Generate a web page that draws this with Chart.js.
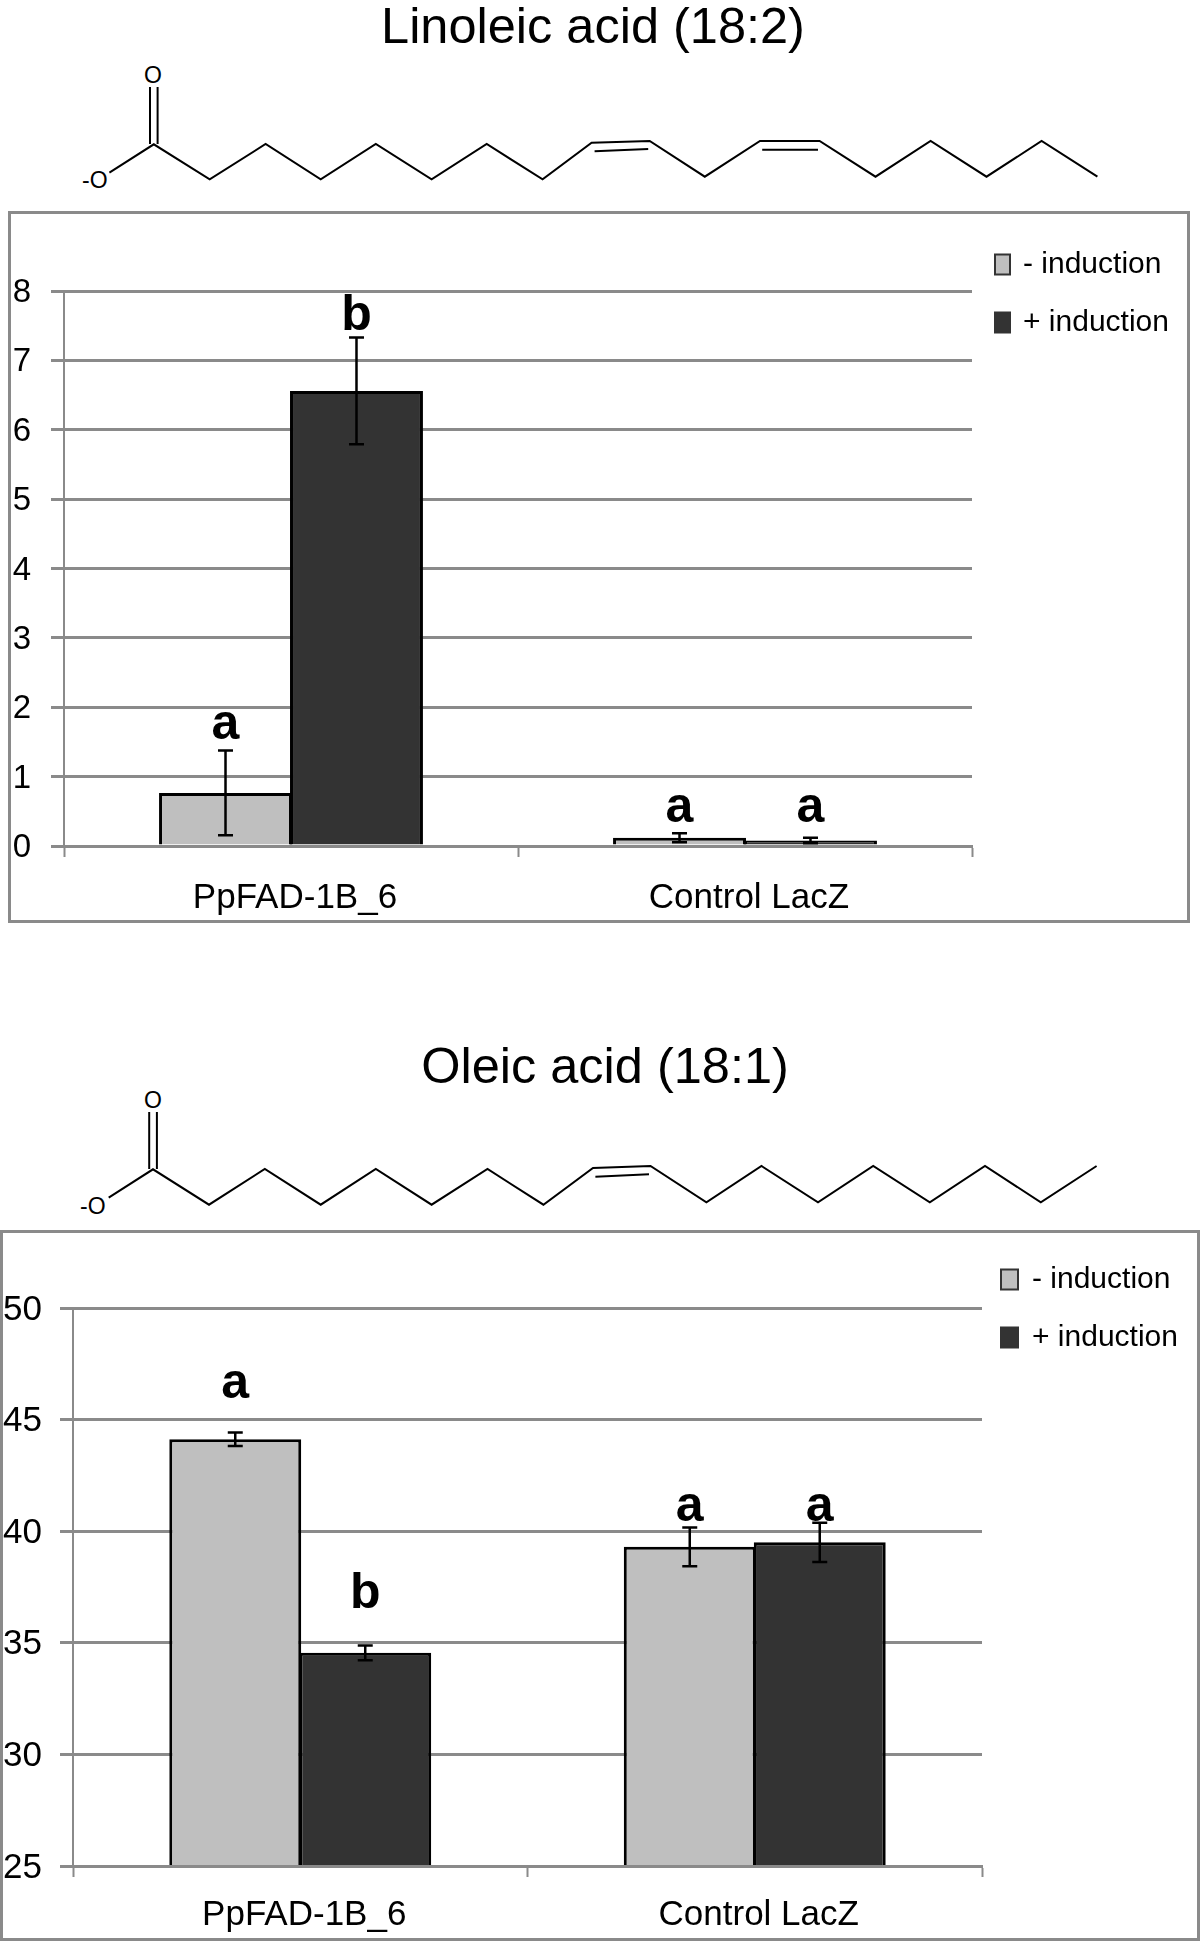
<!DOCTYPE html>
<html>
<head>
<meta charset="utf-8">
<title>Linoleic and oleic acid</title>
<script src="https://cdn.jsdelivr.net/npm/chart.js@4"></script>
<style>
  html, body { margin: 0; background: #fff; }
  body { position: relative; width: 1200px; height: 1941px; overflow: hidden; font-family: "Liberation Sans", Arial, sans-serif; }
  .title { position: absolute; font-size: 50.5px; line-height: 56px; color: #000; white-space: nowrap; transform: translateX(-50%); }
  .frame { position: absolute; box-sizing: border-box; border: 3px solid #8a8a8a; background: #fff; }
  .frame canvas { display: block; }
  svg.mol { position: absolute; left: 0; top: 0; }
  svg.mol polyline, svg.mol line { fill: none; stroke: #000; stroke-width: 2; }
  svg.mol text { font-family: "Liberation Sans", Arial, sans-serif; font-size: 23px; fill: #000; }
</style>
</head>
<body>
<div class="title" style="left:593px;top:-2px">Linoleic acid (18:2)</div>
<div class="title" style="left:605px;top:1038px">Oleic acid (18:1)</div>

<svg class="mol" width="1200" height="1941">
  <!-- 18:2 -->
  <text x="153" y="83" text-anchor="middle">O</text>
  <text x="82" y="188">-O</text>
  <line x1="150" y1="87" x2="150" y2="144"/>
  <line x1="157.6" y1="87" x2="157.6" y2="144"/>
  <polyline points="109.4,172.7 153.8,144.3 209.7,179.3 265.6,144 320.7,179.3 375.8,144 431.6,179.3 486.7,144 542.6,179.3 591.6,142.7 649.7,141 704.8,176.7 760,141 819.6,141 875.5,176.7 930.6,141 986.5,176.7 1041.6,141 1097.4,176.7"/>
  <line x1="594.6" y1="151.3" x2="648.2" y2="149"/>
  <line x1="762.2" y1="149.7" x2="818" y2="149.7"/>
  <!-- 18:1 -->
  <text x="153" y="1108" text-anchor="middle">O</text>
  <text x="80" y="1214">-O</text>
  <line x1="149.2" y1="1112" x2="149.2" y2="1169"/>
  <line x1="156.9" y1="1112" x2="156.9" y2="1169"/>
  <polyline points="108.7,1197.7 153,1169.3 209,1204.7 264.8,1169 320.7,1204.7 375.8,1169 431.6,1204.7 487.5,1169 543.4,1204.7 593,1168 650.5,1166 706.4,1202.3 761.5,1166 818,1202.3 873.2,1166 929.8,1202.3 985,1166 1040.8,1202.3 1096.6,1166"/>
  <line x1="595.4" y1="1176.7" x2="649" y2="1174.3"/>
</svg>

<div class="frame" style="left:8px;top:211px;width:1182px;height:712px"><canvas id="chartLinoleic" width="1176" height="706"></canvas></div>
<div class="frame" style="left:0;top:1230px;width:1200px;height:711px"><canvas id="chartOleic" width="1194" height="705"></canvas></div>

<script>
// --- Data ---
const categories = ['PpFAD-1B_6', 'Control LacZ'];
const seriesLabels = ['- induction', '+ induction'];

const linoleicTicks = [0, 8, 1];
const linoleicMinus = [0.765, 0.12];
const linoleicPlus = [6.56, 0.08];
const linoleicMinusErr = [0.61, 0.065];
const linoleicPlusErr = [0.77, 0.04];
const linoleicMinusLetters = ['a', 'a'];
const linoleicPlusLetters = ['b', 'a'];
const linoleicMinusLetterAt = [1.75, 0.55];
const linoleicPlusLetterAt = [7.64, 0.55];

const oleicTicks = [25, 50, 5];
const oleicMinus = [44.12, 39.3];
const oleicPlus = [34.55, 39.5];
const oleicMinusErr = [0.3, 0.87];
const oleicPlusErr = [0.33, 0.88];
const oleicMinusLetters = ['a', 'a'];
const oleicPlusLetters = ['b', 'a'];
const oleicMinusLetterAt = [46.6, 41.1];
const oleicPlusLetterAt = [37.2, 41.1];

const FONT = '"Liberation Sans", Arial, sans-serif';
const AXIS_GREY = '#8a8a8a';
const LIGHT = '#bfbfbf';
const DARK = '#333333';

// error bars and the a/b letters, placed from the chart's own scales
const markupPlugin = {
    id: 'markup',
    afterDatasetsDraw(chart) {
        const ctx = chart.ctx, y = chart.scales.y;
        ctx.save();
        chart.data.datasets.forEach((ds, i) => {
            chart.getDatasetMeta(i).data.forEach((bar, j) => {
                const top = y.getPixelForValue(ds.data[j] + ds.errors[j]);
                const low = y.getPixelForValue(ds.data[j] - ds.errors[j]);
                ctx.strokeStyle = '#000';
                ctx.lineWidth = 2.5;
                ctx.beginPath();
                ctx.moveTo(bar.x, top); ctx.lineTo(bar.x, low);
                ctx.moveTo(bar.x - 7.5, top); ctx.lineTo(bar.x + 7.5, top);
                ctx.moveTo(bar.x - 7.5, low); ctx.lineTo(bar.x + 7.5, low);
                ctx.stroke();

                ctx.fillStyle = '#000';
                ctx.font = 'bold 50px ' + FONT;
                ctx.textAlign = 'center';
                ctx.textBaseline = 'alphabetic';
                ctx.fillText(ds.letters[j], bar.x, y.getPixelForValue(ds.letterAt[j]) + 14);
            });
        });
        ctx.restore();
    }
};

// legend sits at a fixed spot in the frame, so it is drawn by hand
const sideLegendPlugin = {
    id: 'sideLegend',
    afterDraw(chart, args, opts) {
        const ctx = chart.ctx;
        ctx.save();
        chart.data.datasets.forEach((ds, i) => {
            const top = opts.top + i * opts.step;
            ctx.fillStyle = ds.backgroundColor;
            ctx.strokeStyle = '#333';
            ctx.lineWidth = 2;
            ctx.fillRect(opts.box, top - 1.5, opts.boxW, 20);
            ctx.strokeRect(opts.box, top - 1.5, opts.boxW, 20);
            ctx.fillStyle = '#000';
            ctx.font = '30px ' + FONT;
            ctx.textAlign = 'left';
            ctx.textBaseline = 'middle';
            ctx.fillText(ds.label, opts.text, top + 9);
        });
        ctx.restore();
    }
};

function makeChart(id, minus, plus, minusErr, plusErr, minusLetters, plusLetters, minusAt, plusAt, ticks, box) {
    return new Chart(document.getElementById(id), {
        type: 'bar',
        data: {
            labels: categories,
            datasets: [
                { label: seriesLabels[0], data: minus, errors: minusErr, letters: minusLetters, letterAt: minusAt, backgroundColor: LIGHT, borderColor: '#000', borderWidth: 3 },
                { label: seriesLabels[1], data: plus, errors: plusErr, letters: plusLetters, letterAt: plusAt, backgroundColor: DARK, borderColor: '#000', borderWidth: 3 }
            ]
        },
        plugins: [markupPlugin, sideLegendPlugin],
        options: {
            responsive: false,
            animation: false,
            devicePixelRatio: 1,
            layout: { padding: { left: 0, top: box.top, right: box.right, bottom: 0 } },
            datasets: { bar: { categoryPercentage: box.catPct, barPercentage: 1.015 } },
            plugins: {
                legend: { display: false },
                tooltip: { enabled: false },
                sideLegend: box.legend
            },
            scales: {
                x: {
                    afterFit: s => { s.height = box.xHeight; },
                    grid: { drawOnChartArea: false, drawTicks: true, tickLength: 11, tickWidth: 2, tickColor: AXIS_GREY, offset: true },
                    border: { color: AXIS_GREY, width: 3, z: 2 },
                    ticks: { color: '#000', font: { family: FONT, size: 35 }, padding: box.xPad, labelOffset: 4, maxRotation: 0 }
                },
                y: {
                    min: ticks[0],
                    max: ticks[1],
                    afterFit: s => { s.width = box.yWidth; },
                    grid: { color: AXIS_GREY, lineWidth: 3, tickLength: 13, tickColor: AXIS_GREY },
                    border: { color: AXIS_GREY, width: 2 },
                    ticks: { stepSize: ticks[2], color: '#000', font: { family: FONT, size: box.ySize }, padding: box.yPad, labelOffset: 2 }
                }
            }
        }
    });
}

makeChart('chartLinoleic', linoleicMinus, linoleicPlus, linoleicMinusErr, linoleicPlusErr,
    linoleicMinusLetters, linoleicPlusLetters, linoleicMinusLetterAt, linoleicPlusLetterAt, linoleicTicks,
    { top: 77, right: 215, yWidth: 53, xHeight: 74, xPad: 20, ySize: 33, yPad: 20, catPct: 0.577, legend: { box: 984, boxW: 15, text: 1012, top: 42, step: 58 } });

makeChart('chartOleic', oleicMinus, oleicPlus, oleicMinusErr, oleicPlusErr,
    oleicMinusLetters, oleicPlusLetters, oleicMinusLetterAt, oleicPlusLetterAt, oleicTicks,
    { top: 75, right: 215, yWidth: 70, xHeight: 72, xPad: 17, ySize: 35, yPad: 18, catPct: 0.572, legend: { box: 998, boxW: 17, text: 1029, top: 38, step: 58 } });
</script>
</body>
</html>
